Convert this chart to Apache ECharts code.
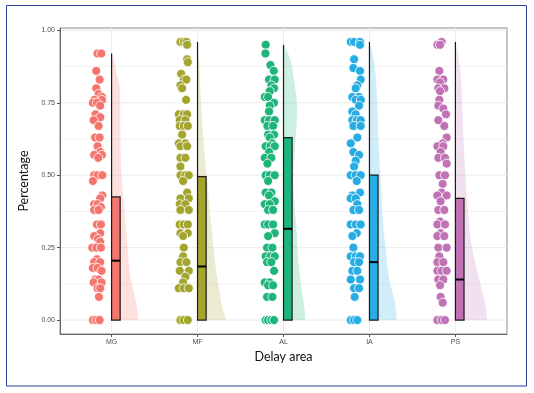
<!DOCTYPE html>
<html>
<head>
<meta charset="utf-8">
<script src="https://cdn.jsdelivr.net/npm/echarts@6/dist/echarts.min.js"></script>
<style>
html, body { margin: 0; padding: 0; background: #fff; }
#chart { width: 534px; height: 393px; }
</style>
</head>
<body>
<div id="chart"></div>
<script>
// categories and colours
var categories = ['MG', 'MF', 'AL', 'IA', 'PS'];
var colors = ['#F4756D', '#A3A52E', '#1DB57A', '#28ACE4', '#C172B5'];
var yTicks = [0, 0.25, 0.5, 0.75, 1];
var yMinorTicks = [0.125, 0.375, 0.625, 0.875];

// box stats
var boxQ1 = [0, 0, 0, 0, 0];
var boxMedian = [0.205, 0.185, 0.315, 0.2, 0.14];
var boxQ3 = [0.425, 0.495, 0.63, 0.5, 0.42];
var whiskerTop = [0.92, 0.96, 0.95, 0.96, 0.96];

// points: [value, jitter]
var pointsMG = [[0.92,-0.003],[0.92,0.04],[0.86,-0.018],[0.83,0.021],[0.8,-0.018],[0.78,0.009],[0.77,0.048],
  [0.76,-0.042],[0.76,0.048],[0.75,-0.057],[0.75,-0.01],[0.74,0.028],[0.71,-0.026],[0.7,0.028],[0.69,-0.049],
  [0.67,0.009],[0.63,-0.03],[0.63,0.021],[0.6,-0.003],[0.58,0.028],[0.57,-0.042],[0.57,0.048],[0.56,0.005],
  [0.5,-0.042],[0.5,-0.003],[0.5,0.052],[0.48,-0.057],[0.43,0.052],[0.42,0.028],[0.4,-0.042],[0.4,-0.003],
  [0.39,0.036],[0.38,-0.042],[0.38,0.009],[0.33,-0.01],[0.33,0.036],[0.3,0.028],[0.29,-0.042],[0.28,0.001],
  [0.27,0.028],[0.25,-0.065],[0.25,-0.018],[0.25,0.036],[0.21,-0.01],[0.2,-0.042],[0.2,0.028],[0.18,-0.057],
  [0.18,-0.003],[0.17,0.044],[0.14,-0.03],[0.14,0.009],[0.13,-0.049],[0.13,0.044],[0.11,-0.003],[0.11,0.028],
  [0.08,0.013],[0,-0.057],[0,-0.018],[0,0.021]];
var pointsMF = [[0.96,-0.039],[0.96,0],[0.96,0.031],[0.95,0.039],[0.9,0.039],[0.89,0.047],[0.85,-0.031],
  [0.83,0],[0.83,0.031],[0.81,-0.039],[0.8,-0.019],[0.76,0.027],[0.71,-0.058],[0.71,0],[0.71,0.039],
  [0.69,-0.047],[0.69,0.019],[0.67,-0.047],[0.67,0],[0.67,0.047],[0.64,-0.019],[0.61,-0.058],[0.61,0.019],
  [0.6,-0.039],[0.6,0.039],[0.56,-0.039],[0.56,0.019],[0.53,-0.039],[0.5,-0.039],[0.5,0.019],[0.5,0.058],
  [0.48,-0.008],[0.44,0.039],[0.42,-0.039],[0.42,0.058],[0.4,-0.047],[0.4,0.019],[0.38,-0.039],[0.38,0.058],
  [0.33,-0.047],[0.33,0],[0.33,0.047],[0.3,-0.039],[0.3,0.047],[0.29,-0.008],[0.25,0],[0.22,-0.008],
  [0.2,-0.039],[0.2,0.031],[0.17,-0.047],[0.17,0.058],[0.15,0.019],[0.13,-0.008],[0.11,-0.058],[0.11,0],
  [0.11,0.058],[0,-0.039],[0,0],[0,0.047]];
var pointsAL = [[0.95,-0.047],[0.92,-0.05],[0.88,0.008],[0.86,0.047],[0.83,-0.008],[0.83,0.058],[0.81,0.019],
  [0.8,0.05],[0.79,0],[0.77,-0.058],[0.77,-0.019],[0.75,0.05],[0.74,0],[0.72,-0.008],[0.69,-0.058],
  [0.69,-0.008],[0.69,0.058],[0.67,-0.027],[0.67,0.039],[0.64,-0.019],[0.64,0.05],[0.63,0],[0.61,0.031],
  [0.6,-0.047],[0.6,0.008],[0.6,0.058],[0.58,-0.008],[0.56,-0.058],[0.56,0.019],[0.54,-0.027],[0.5,-0.047],
  [0.5,0],[0.5,0.058],[0.48,-0.019],[0.44,-0.047],[0.44,0.019],[0.43,-0.008],[0.41,0.058],[0.4,-0.058],
  [0.4,0],[0.38,-0.019],[0.38,0.039],[0.33,-0.058],[0.33,-0.019],[0.33,0.039],[0.3,0.058],[0.29,-0.019],
  [0.25,-0.031],[0.25,0.031],[0.22,-0.047],[0.22,0.008],[0.22,0.058],[0.2,-0.031],[0.2,0.019],[0.17,0.05],
  [0.13,-0.058],[0.13,0],[0.12,-0.019],[0.12,0.039],[0.08,-0.031],[0.08,0.031],[0,-0.047],[0,-0.019],
  [0,0.019],[0,0.05]];
var pointsIA = [[0.96,-0.058],[0.96,-0.019],[0.96,0.05],[0.95,0.05],[0.9,-0.019],[0.87,-0.027],[0.86,0.05],
  [0.83,0.058],[0.81,0.019],[0.8,0],[0.77,-0.039],[0.77,0.039],[0.76,0],[0.76,0.06],[0.74,0.039],
  [0.72,-0.039],[0.71,0],[0.69,-0.039],[0.69,0.012],[0.69,0.058],[0.67,-0.027],[0.67,0.058],[0.63,0.019],
  [0.61,-0.058],[0.58,-0.027],[0.57,0.039],[0.55,0],[0.53,-0.019],[0.5,-0.058],[0.5,0],[0.5,0.058],
  [0.48,0.012],[0.44,0.05],[0.43,-0.039],[0.42,-0.058],[0.42,0],[0.4,0.019],[0.38,-0.027],[0.38,0.039],
  [0.33,-0.058],[0.33,0],[0.33,0.058],[0.3,0.012],[0.29,-0.039],[0.25,-0.027],[0.22,-0.058],[0.22,0],
  [0.22,0.05],[0.2,-0.019],[0.2,0.039],[0.17,-0.039],[0.17,0.019],[0.14,-0.058],[0.14,0.05],[0.11,-0.019],
  [0.11,0.039],[0.08,-0.012],[0,-0.058],[0,-0.019],[0,0.019]];
var pointsPS = [[0.96,0],[0.95,-0.05],[0.95,-0.019],[0.86,-0.027],[0.83,-0.05],[0.83,0.019],[0.82,-0.019],
  [0.8,-0.039],[0.8,0.031],[0.79,-0.019],[0.76,-0.027],[0.74,-0.039],[0.73,0.019],[0.71,0.05],[0.69,-0.039],
  [0.67,0.031],[0.63,0.058],[0.61,0.012],[0.6,-0.05],[0.6,0.019],[0.58,-0.012],[0.56,-0.039],[0.56,0.039],
  [0.54,0.058],[0.5,-0.027],[0.5,0.039],[0.47,0.012],[0.44,0],[0.43,-0.05],[0.43,0.058],[0.41,-0.012],
  [0.38,-0.039],[0.38,0.031],[0.34,-0.019],[0.33,-0.05],[0.33,0.039],[0.3,-0.012],[0.29,-0.05],[0.29,0.031],
  [0.25,-0.039],[0.25,0.058],[0.22,-0.027],[0.2,-0.05],[0.2,0.019],[0.17,-0.05],[0.17,0],[0.17,0.058],
  [0.14,-0.039],[0.14,0.019],[0.12,-0.019],[0.08,-0.012],[0.06,0.012],[0,-0.05],[0,0],[0,0.039]];

// half violin profiles: [value, half width]
var violinMG = [[0,0.314],[0.05,0.291],[0.1,0.256],[0.15,0.218],[0.25,0.186],[0.35,0.159],[0.5,0.116],
  [0.6,0.105],[0.75,0.1],[0.8,0.095],[0.87,0.045],[0.9,0.025],[0.92,0]];
var violinMF = [[0,0.326],[0.05,0.285],[0.15,0.227],[0.25,0.186],[0.35,0.151],[0.5,0.105],[0.6,0.075],
  [0.75,0.041],[0.9,0.017],[0.96,0]];
var violinAL = [[0,0.253],[0.05,0.241],[0.1,0.213],[0.2,0.175],[0.3,0.155],[0.4,0.128],[0.5,0.116],
  [0.6,0.136],[0.7,0.155],[0.75,0.155],[0.8,0.136],[0.9,0.078],[0.95,0]];
var violinIA = [[0,0.314],[0.05,0.303],[0.1,0.264],[0.15,0.225],[0.25,0.186],[0.35,0.155],[0.5,0.128],
  [0.6,0.108],[0.75,0.09],[0.85,0.07],[0.92,0.035],[0.96,0]];
var violinPS = [[0,0.369],[0.05,0.349],[0.1,0.311],[0.15,0.271],[0.25,0.194],[0.35,0.155],[0.5,0.116],
  [0.6,0.097],[0.75,0.078],[0.85,0.058],[0.92,0.03],[0.96,0]];

var allPoints = [pointsMG, pointsMF, pointsAL, pointsIA, pointsPS];
var allViolins = [violinMG, violinMF, violinAL, violinIA, violinPS];

var pointShift = -0.16;  // points sit left of the box
var boxWidth = 0.1;

var chart = echarts.init(document.getElementById('chart'));

// background grid lines: [kind, value, isMinor]
var gridData = [];
yTicks.forEach(function (v) { gridData.push([0, v, 0]); });
yMinorTicks.forEach(function (v) { gridData.push([0, v, 1]); });
categories.forEach(function (c, i) { gridData.push([1, i + 1, 0]); });

function gridItem(params, api) {
    var cs = params.coordSys;
    var kind = api.value(0), v = api.value(1), minor = api.value(2);
    var shape;
    if (kind === 0) {
        var y = api.coord([1, v])[1];
        shape = { x1: cs.x, y1: y, x2: cs.x + cs.width, y2: y };
    } else {
        var x = api.coord([v, 0])[0];
        shape = { x1: x, y1: cs.y, x2: x, y2: cs.y + cs.height };
    }
    return {
        type: 'line',
        shape: shape,
        style: { stroke: minor ? '#f3f3f3' : '#ebebeb', lineWidth: 1 }
    };
}

function violinItem(params, api) {
    var k = params.dataIndex;
    var prof = allViolins[k];
    var cx = k + 1;
    var pts = [api.coord([cx, prof[0][0]])];
    for (var i = 0; i < prof.length; i++) {
        pts.push(api.coord([cx + prof[i][1], prof[i][0]]));
    }
    // keep the smoothed outline inside the outline's own box
    var minP = [Infinity, Infinity], maxP = [-Infinity, -Infinity];
    pts.forEach(function (p) {
        minP[0] = Math.min(minP[0], p[0]); minP[1] = Math.min(minP[1], p[1]);
        maxP[0] = Math.max(maxP[0], p[0]); maxP[1] = Math.max(maxP[1], p[1]);
    });
    return {
        type: 'polygon',
        shape: { points: pts, smooth: 0.4, smoothConstraint: [minP, maxP] },
        style: { fill: colors[k], opacity: 0.22 }
    };
}

function boxItem(params, api) {
    var k = params.dataIndex;
    var cx = k + 1;
    var lo = api.coord([cx, boxQ1[k]]);
    var hi = api.coord([cx + boxWidth, boxQ3[k]]);
    var med = api.coord([cx, boxMedian[k]]);
    var top = api.coord([cx, whiskerTop[k]]);
    return {
        type: 'group',
        children: [
            { type: 'line', shape: { x1: lo[0], y1: top[1], x2: lo[0], y2: hi[1] },
              style: { stroke: '#1a1a1a', lineWidth: 1.2 } },
            { type: 'rect', shape: { x: lo[0], y: hi[1], width: hi[0] - lo[0], height: lo[1] - hi[1] },
              style: { fill: colors[k], stroke: '#1a1a1a', lineWidth: 1.2 } },
            { type: 'line', shape: { x1: lo[0], y1: med[1], x2: hi[0], y2: med[1] },
              style: { stroke: '#000', lineWidth: 2 } }
        ]
    };
}

var series = [
    {
        type: 'custom',
        z: 0,
        renderItem: gridItem,
        data: gridData,
        encode: { x: -1, y: -1 },
        silent: true
    },
    {
        type: 'custom',
        z: 1,
        renderItem: violinItem,
        data: categories.map(function (c, i) { return [i + 1, whiskerTop[i]]; }),
        encode: { x: 0, y: 1 },
        silent: true
    },
    {
        type: 'custom',
        z: 2,
        renderItem: boxItem,
        data: categories.map(function (c, i) { return [i + 1, boxQ3[i]]; }),
        encode: { x: 0, y: 1 },
        silent: true
    }
];

allPoints.forEach(function (pts, k) {
    series.push({
        type: 'scatter',
        z: 3,
        symbolSize: 9,
        itemStyle: { color: colors[k], borderColor: '#fff', borderWidth: 0.8, opacity: 1 },
        data: pts.map(function (p) { return [k + 1 + pointShift + p[1], p[0]]; })
    });
});

var option = {
    animation: false,
    backgroundColor: '#fff',
    grid: {
        left: 60, right: 27, top: 28, bottom: 59,
        show: true, borderColor: '#8c8c8c', borderWidth: 1
    },
    xAxis: {
        type: 'value',
        min: 0.4,
        max: 5.6,
        name: 'Delay area',
        nameLocation: 'middle',
        nameGap: 15,
        nameTextStyle: { fontFamily: 'Lato', fontSize: 12.5, color: '#111' },
        axisLine: { show: true, onZero: false, lineStyle: { color: '#666', width: 1 } },
        axisTick: { show: true, length: 3, customValues: [1, 2, 3, 4, 5], lineStyle: { color: '#555' } },
        axisLabel: {
            customValues: [1, 2, 3, 4, 5],
            margin: 5,
            fontSize: 7,
            fontFamily: 'Liberation Sans',
            color: '#4d4d4d',
            formatter: function (v) { return categories[Math.round(v) - 1]; }
        },
        splitLine: { show: false }
    },
    yAxis: {
        type: 'value',
        min: -0.048,
        max: 1.008,
        name: 'Percentage',
        nameLocation: 'middle',
        nameGap: 22,
        nameTextStyle: { fontFamily: 'Lato', fontSize: 12.5, color: '#111' },
        axisLine: { show: true, onZero: false, lineStyle: { color: '#666', width: 1 } },
        axisTick: { show: true, length: 3, customValues: yTicks, lineStyle: { color: '#555' } },
        axisLabel: {
            customValues: yTicks,
            margin: 5,
            fontSize: 7,
            fontFamily: 'Liberation Sans',
            color: '#4d4d4d',
            formatter: function (v) { return v.toFixed(2); }
        },
        splitLine: { show: false }
    },
    graphic: [{
        type: 'rect',
        shape: { x: 6.5, y: 5.5, width: 520, height: 380.5 },
        style: { fill: 'none', stroke: '#2f3f93', lineWidth: 1 },
        silent: true
    }],
    series: series
};

chart.setOption(option);
</script>
</body>
</html>
